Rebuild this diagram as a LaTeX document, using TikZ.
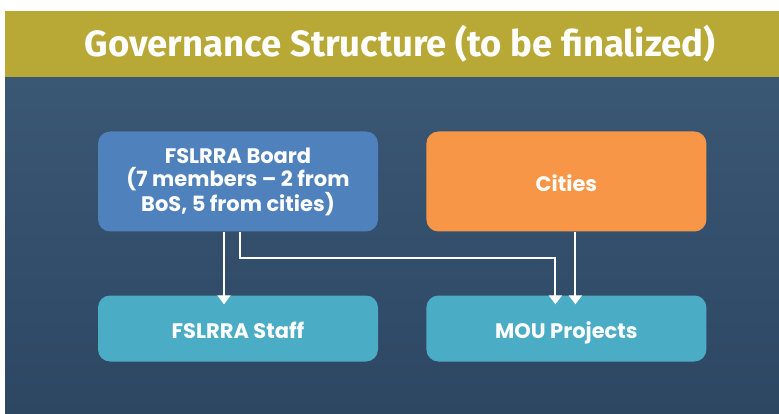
\documentclass[tikz,border=0pt]{standalone}
\usepackage{fontspec}
\setmainfont{Poppins}
\newfontfamily\titlefont{Fira Sans}
\usetikzlibrary{arrows.meta,positioning}
\definecolor{titlebar}{RGB}{184,168,54}
\definecolor{bgtop}{RGB}{58,87,116}
\definecolor{bgbottom}{RGB}{45,71,99}
\definecolor{boardblue}{RGB}{79,129,189}
\definecolor{cityorange}{RGB}{247,150,70}
\definecolor{staffteal}{RGB}{75,172,198}
\tikzset{
  box/.style={rounded corners=12pt, minimum width=280pt, text=white, inner sep=0pt,
    font=\bfseries\fontsize{21}{23.5}\selectfont, align=center},
  toprow/.style={box, minimum height=100pt},
  botrow/.style={box, minimum height=66pt, fill=staffteal},
  oneline/.style={text height=20pt, text depth=0pt},
  link/.style={draw=white, line width=2pt, -{Triangle[width=13pt,length=9pt]}}
}

\begin{document}
\begin{tikzpicture}[x=1pt,y=-1pt]
  \useasboundingbox (0,0) rectangle (779,414);

  % background and title bar
  \fill[white] (0,0) rectangle (779,414);
  \shade[top color=bgtop, bottom color=bgbottom] (5,77) rectangle (779,414);
  \fill[titlebar] (5,11) rectangle (779,77);
  \node (title) at (400,44) [text=white, font=\titlefont\bfseries\fontsize{36.5}{40}\selectfont]
    {Governance Structure (to be finalized)};

  % first row
  \node (board) at (238,181.5) [toprow, fill=boardblue] {FSLRRA Board\\(7 members -- 2 from\\BoS, 5 from cities)};
  \node (cities) [toprow, oneline, fill=cityorange, right=48pt of board] {Cities};

  % second row
  \node (staff) at (238,328.5) [botrow, oneline] {FSLRRA Staff};
  \node (mou) [botrow, oneline, right=48pt of staff] {MOU Projects};

  % links
  \draw[link] ([xshift=-14pt]board.south) -- ([xshift=-14pt,yshift=-9pt]staff.north);
  \draw[link] ([xshift=2pt]board.south) -- ++(0,26) -| ([xshift=-11pt,yshift=-9pt]mou.north);
  \draw[link] ([xshift=9pt]cities.south) -- ([xshift=9pt,yshift=-9pt]mou.north);

\end{tikzpicture}
\end{document}
